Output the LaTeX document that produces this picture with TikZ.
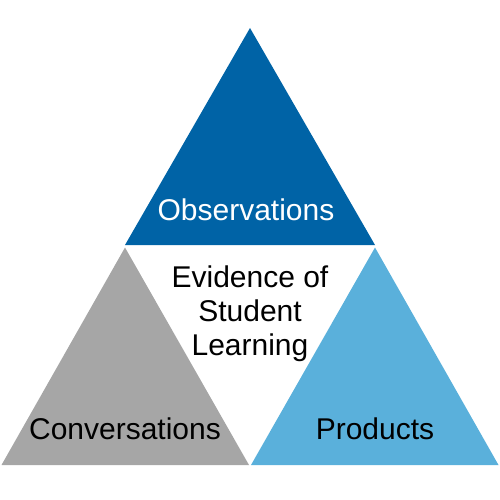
\documentclass[tikz,border=0pt]{standalone}
\usepackage{fontspec}
\setmainfont{Liberation Sans}
\usetikzlibrary{positioning}

\begin{document}
\begin{tikzpicture}[x=1pt, y=-1pt]
  % Colours of the three triangles
  \definecolor{obsblue}{RGB}{0, 99, 166}    % dark blue, top
  \definecolor{convgrey}{RGB}{166, 166, 166} % grey, bottom left
  \definecolor{prodblue}{RGB}{90, 176, 219}  % light blue, bottom right

  \tikzset{
    corner label/.style={font=\fontsize{30}{34}\selectfont, anchor=base},
    centre label/.style={font=\fontsize{30}{34}\selectfont, align=center}
  }

  \useasboundingbox (0,0) rectangle (500,500);

  % --- Corners of the triangles ---
  \coordinate (apex) at (250, 28);
  \coordinate (topL) at (125, 245);
  \coordinate (topR) at (375, 245);
  \coordinate (leftApex) at (125, 247.5);
  \coordinate (rightApex) at (375, 247.5);
  \coordinate (botL) at (1.5, 465);
  \coordinate (botML) at (249, 465);
  \coordinate (botMR) at (251, 465);
  \coordinate (botR) at (498.5, 465);

  % --- Triangles ---
  \fill[obsblue] (apex) -- (topR) -- (topL) -- cycle;
  \fill[convgrey] (leftApex) -- (botML) -- (botL) -- cycle;
  \fill[prodblue] (rightApex) -- (botR) -- (botMR) -- cycle;

  % --- Labels ---
  \node[corner label, text=white] (obs) at (246, 220) {Observations};
  \node[corner label] (conv) at (125, 439) {Conversations};
  \node[corner label] (prod) at (375, 439) {Products};
  \node[centre label] (evidence) at (250, 314) {Evidence of\\Student\\Learning};

\end{tikzpicture}
\end{document}
